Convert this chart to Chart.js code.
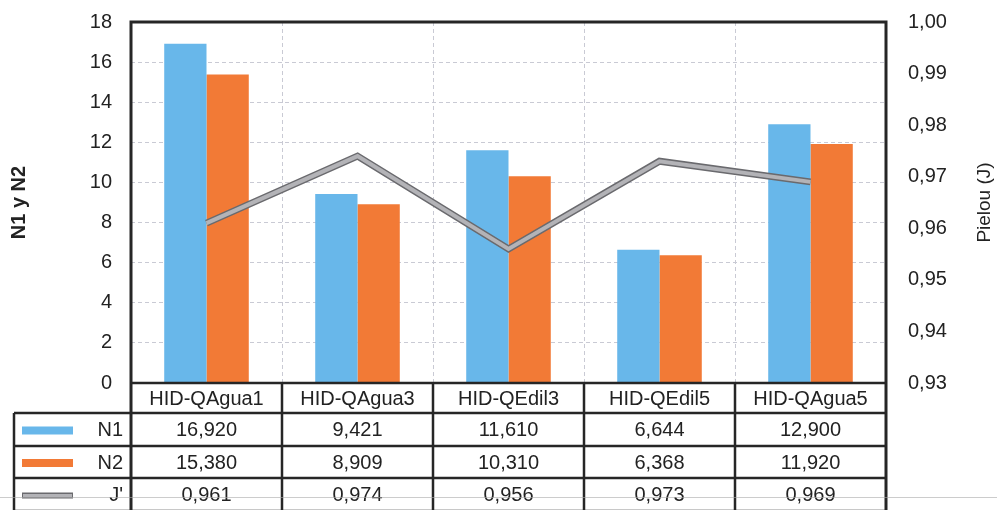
<!DOCTYPE html>
<html>
<head>
<meta charset="utf-8">
<script src="https://cdn.jsdelivr.net/npm/chart.js@4.4.1/dist/chart.umd.min.js"></script>
<style>
  html, body { margin: 0; padding: 0; background: #fff; }
  #wrap { width: 997px; height: 510px; position: relative; }
</style>
</head>
<body>
<div id="wrap"><canvas id="diversidadChart" width="997" height="510"></canvas></div>
<script>
const categories = ['HID-QAgua1', 'HID-QAgua3', 'HID-QEdil3', 'HID-QEdil5', 'HID-QAgua5'];
const n1Values = [16.920, 9.421, 11.610, 6.644, 12.900];
const n2Values = [15.380, 8.909, 10.310, 6.368, 11.920];
const pielouValues = [0.961, 0.974, 0.956, 0.973, 0.969];
const leftTicks = [0, 18, 2];
const rightTicks = [0.93, 1.00, 0.01];

const COLORS = {
    n1: '#68b7ea',
    n2: '#f27a36',
    lineOuter: '#6a6a6e',
    lineInner: '#b3b3b7',
    frame: '#262626',
    grid: '#c9cad4',
    text: '#222'
};

const FONT = 'Liberation Sans, Arial, sans-serif';
const FONT_SIZE = 20;

// row heights of the data table under the plot (header + 3 series)
const ROW_H = [30, 33, 32, 33];
const LEGEND_LEFT = 14;

const fmt = (v, d) => v.toFixed(d).replace('.', ',');

// keep the axis label overhang from pushing the plot area down
const noOverhang = (width) => (scale) => {
    scale.width = width;
    scale.paddingTop = 0;
    scale.paddingBottom = 0;
};

const tablePlugin = {
    id: 'dataTable',
    afterDraw(chart) {
        const ctx = chart.ctx;
        const area = chart.chartArea;
        const n = categories.length;
        const colW = (area.right - area.left) / n;
        const rows = [
            { label: 'N1', values: n1Values.map(v => fmt(v, 3)), swatch: 'n1' },
            { label: 'N2', values: n2Values.map(v => fmt(v, 3)), swatch: 'n2' },
            { label: "J'", values: pielouValues.map(v => fmt(v, 3)), swatch: 'line' }
        ];

        ctx.save();
        ctx.font = FONT_SIZE + 'px ' + FONT;
        ctx.fillStyle = COLORS.text;
        ctx.textBaseline = 'middle';

        // header with category names
        let y = area.bottom;
        ctx.textAlign = 'center';
        categories.forEach((c, i) => {
            ctx.fillText(c, area.left + colW * (i + 0.5), y + ROW_H[0] / 2 + 1);
        });
        y += ROW_H[0];

        rows.forEach((row, r) => {
            const h = ROW_H[r + 1];
            const cy = y + h / 2 + 1;
            ctx.textAlign = 'center';
            row.values.forEach((v, i) => {
                ctx.fillText(v, area.left + colW * (i + 0.5), cy);
            });
            ctx.textAlign = 'right';
            ctx.fillText(row.label, area.left - 8, cy);
            // legend key
            if (row.swatch === 'line') {
                ctx.fillStyle = COLORS.lineOuter;
                ctx.fillRect(22, cy - 3, 51, 6);
                ctx.fillStyle = COLORS.lineInner;
                ctx.fillRect(23, cy - 1.5, 49, 3);
            } else {
                ctx.fillStyle = COLORS[row.swatch];
                ctx.fillRect(22, cy - 4, 51, 8);
            }
            ctx.fillStyle = COLORS.text;
            y += h;
        });

        // table grid lines
        ctx.strokeStyle = COLORS.frame;
        ctx.lineWidth = 2.5;
        ctx.beginPath();
        let ly = area.bottom;
        ctx.moveTo(area.left, ly); ctx.lineTo(area.right, ly);
        ly += ROW_H[0];
        for (let r = 1; r < ROW_H.length; r++) {
            ctx.moveTo(LEGEND_LEFT, ly); ctx.lineTo(area.right, ly);
            ly += ROW_H[r];
        }
        ctx.moveTo(LEGEND_LEFT, ly); ctx.lineTo(area.right, ly);
        ctx.moveTo(LEGEND_LEFT, area.bottom + ROW_H[0]); ctx.lineTo(LEGEND_LEFT, ly);
        for (let i = 1; i < n; i++) {
            const x = area.left + colW * i;
            ctx.moveTo(x, area.bottom); ctx.lineTo(x, ly);
        }
        ctx.stroke();

        // plot frame
        ctx.lineWidth = 3;
        ctx.beginPath();
        ctx.moveTo(area.left, ly);
        ctx.lineTo(area.left, area.top);
        ctx.lineTo(area.right, area.top);
        ctx.lineTo(area.right, ly);
        ctx.stroke();

        // faint scan line across the lower part of the page
        ctx.strokeStyle = 'rgba(170,170,170,0.6)';
        ctx.lineWidth = 1;
        ctx.beginPath();
        ctx.moveTo(0, 497.5); ctx.lineTo(997, 497.5);
        ctx.stroke();

        // right axis title, reading upwards
        ctx.save();
        ctx.translate(985, (area.top + area.bottom) / 2);
        ctx.rotate(-Math.PI / 2);
        ctx.textAlign = 'center';
        ctx.fillStyle = COLORS.text;
        ctx.font = '19px ' + FONT;
        ctx.fillText('Pielou (J)', 0, 0);
        ctx.restore();

        ctx.restore();
    }
};

function initChart() {
    const ctx = document.getElementById('diversidadChart').getContext('2d');

    new Chart(ctx, {
        type: 'bar',
        data: {
            labels: categories,
            datasets: [
                {
                    type: 'line',
                    label: "J' borde",
                    data: pielouValues,
                    yAxisID: 'yRight',
                    borderColor: COLORS.lineOuter,
                    borderWidth: 7,
                    pointRadius: 0,
                    tension: 0,
                    order: 1
                },
                {
                    type: 'line',
                    label: "J'",
                    data: pielouValues,
                    yAxisID: 'yRight',
                    borderColor: COLORS.lineInner,
                    borderWidth: 4,
                    pointRadius: 0,
                    tension: 0,
                    order: 0
                },
                {
                    label: 'N1',
                    data: n1Values,
                    yAxisID: 'yLeft',
                    backgroundColor: COLORS.n1,
                    categoryPercentage: 0.56,
                    barPercentage: 1,
                    order: 2
                },
                {
                    label: 'N2',
                    data: n2Values,
                    yAxisID: 'yLeft',
                    backgroundColor: COLORS.n2,
                    categoryPercentage: 0.56,
                    barPercentage: 1,
                    order: 2
                }
            ]
        },
        options: {
            responsive: false,
            animation: false,
            events: [],
            layout: { padding: { top: 22, left: 0, right: 0, bottom: 0 } },
            plugins: {
                legend: { display: false },
                tooltip: { enabled: false }
            },
            scales: {
                x: {
                    offset: true,
                    grid: {
                        offset: true,
                        color: COLORS.grid,
                        drawTicks: false
                    },
                    border: { display: false, dash: [4, 3] },
                    ticks: { display: false },
                    afterFit: (scale) => {
                        scale.height = 127;
                        scale.paddingLeft = 0;
                        scale.paddingRight = 0;
                    }
                },
                yLeft: {
                    position: 'left',
                    min: leftTicks[0],
                    max: leftTicks[1],
                    ticks: {
                        stepSize: leftTicks[2],
                        color: COLORS.text,
                        font: { family: FONT, size: FONT_SIZE },
                        padding: 19
                    },
                    grid: { color: COLORS.grid, drawTicks: false },
                    border: { display: false, dash: [4, 3] },
                    title: {
                        display: true,
                        text: 'N1 y N2',
                        color: COLORS.text,
                        font: { family: FONT, size: 20, weight: 'bold' },
                        padding: { top: 7, bottom: 0 }
                    },
                    afterFit: noOverhang(131)
                },
                yRight: {
                    position: 'right',
                    min: rightTicks[0],
                    max: rightTicks[1],
                    ticks: {
                        stepSize: rightTicks[2],
                        color: COLORS.text,
                        font: { family: FONT, size: FONT_SIZE },
                        padding: 14,
                        callback: (v) => fmt(v, 2)
                    },
                    grid: { display: false },
                    border: { display: false },
                    afterFit: noOverhang(111)
                }
            }
        },
        plugins: [tablePlugin]
    });
}

document.addEventListener('DOMContentLoaded', initChart);
</script>
</body>
</html>
